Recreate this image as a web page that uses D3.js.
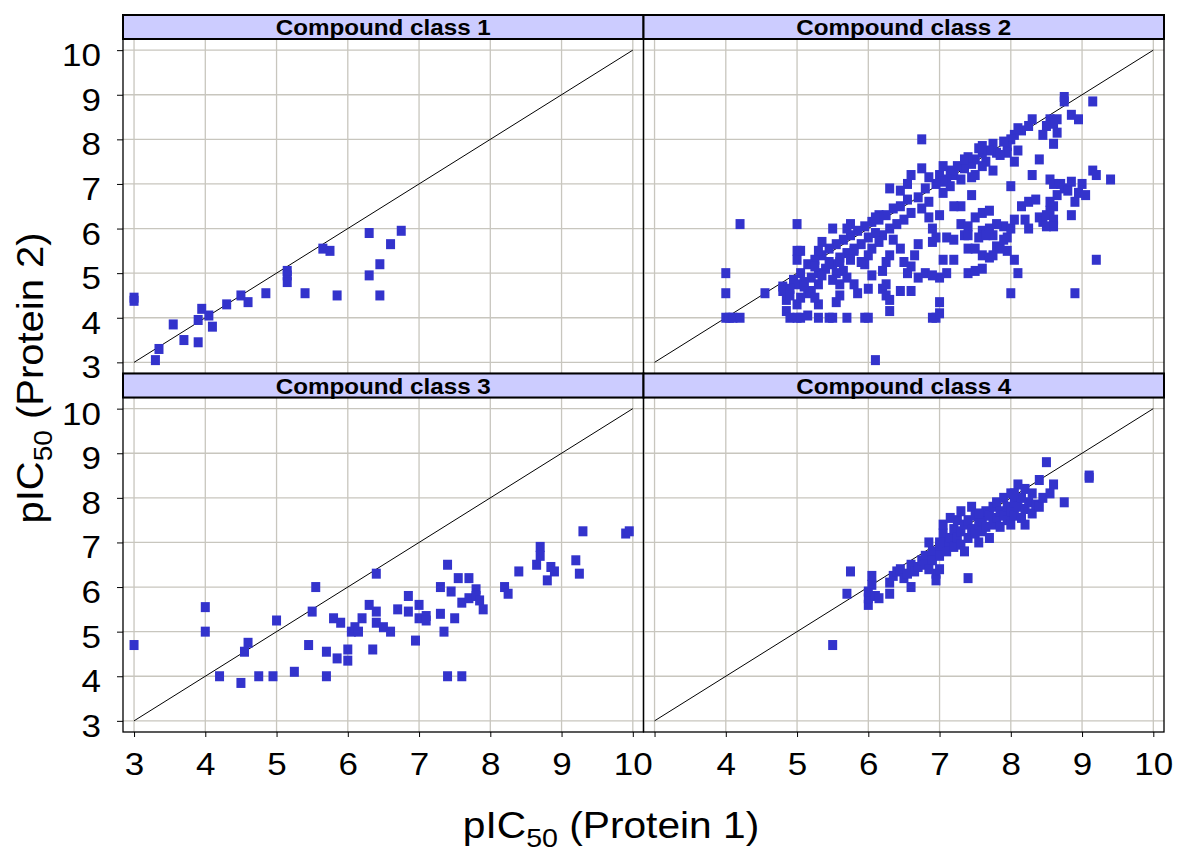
<!DOCTYPE html>
<html>
<head>
<meta charset="utf-8">
<script src="https://cdn.jsdelivr.net/npm/d3@7"></script>
<style>
  body { margin: 0; background: #fff; }
  svg { display: block; font-family: "Liberation Sans", Arial, sans-serif; }
</style>
</head>
<body>
<div id="chart"></div>
<script>
// Configuration
const width = 1179;
const height = 854;
const plotLeft = 123, plotRight = 1164, plotTopY = 15;
const stripH = 24, panelH = 334.5;
const colW = (plotRight - plotLeft) / 2;
const stretch = 1.13; // tick text is a bit wider than Arial

// --- Data ---
const panelTitles = ["Compound class 1", "Compound class 2", "Compound class 3", "Compound class 4"];
const xTicks = [3, 4, 5, 6, 7, 8, 9, 10];
const yTicks = [3, 4, 5, 6, 7, 8, 9, 10];
const refLine = [[3, 3], [10, 10]];

const class1Points = [
  [3.0, 4.45], [3.0, 4.38], [3.3, 3.05], [3.35, 3.3], [3.55, 3.85], [3.7, 3.5], [3.9, 3.45],
  [3.9, 3.95], [3.95, 4.2], [4.05, 4.05], [4.1, 3.8], [4.3, 4.3], [4.5, 4.5], [4.6, 4.35],
  [4.85, 4.55], [5.15, 4.95], [5.15, 5.05], [5.15, 4.8], [5.4, 4.55], [5.65, 5.55],
  [5.75, 5.5], [5.85, 4.5], [6.3, 4.95], [6.3, 5.9], [6.45, 4.5], [6.45, 5.2], [6.6, 5.65],
  [6.75, 5.95]
];

const class2Points = [
  // far left and floor values
  [4.0, 5.0], [4.0, 4.55], [4.0, 4.0], [4.05, 4.0], [4.1, 4.0], [4.2, 4.0], [4.2, 6.1],
  [4.55, 4.55], [4.8, 4.7], [4.8, 4.6], [4.85, 4.4], [4.85, 4.15], [4.9, 4.0], [4.9, 4.5],
  [5.0, 4.0], [5.0, 4.3], [5.0, 6.1], [5.0, 5.5], [5.0, 5.3], [5.05, 5.0], [4.95, 4.85],
  [5.05, 4.0], [5.3, 4.0], [5.45, 4.0], [5.5, 4.0], [5.7, 4.0], [5.95, 4.0], [6.0, 4.0],
  [6.9, 4.0], [6.95, 4.0], [6.1, 3.05],
  // upper part of the main band
  [8.75, 8.95], [8.75, 8.85], [9.15, 8.85], [8.85, 8.55], [8.95, 8.45], [8.55, 8.45],
  [8.65, 8.45], [8.6, 8.35], [8.5, 8.3], [8.45, 8.1], [8.65, 8.15], [8.6, 7.9], [8.25, 8.3],
  [8.15, 8.2], [8.05, 8.1], [8.1, 8.25], [8.3, 8.45], [8.0, 8.0], [7.95, 7.85], [7.9, 7.95],
  [7.8, 7.7], [7.75, 7.9], [7.7, 7.75], [7.6, 7.7], [7.5, 7.55], [7.55, 7.8],
  [7.45, 7.45], [7.4, 7.6], [7.35, 7.35], [7.25, 7.4], [7.2, 7.2], [7.15, 7.3], [7.0, 7.2],
  [7.95, 7.7], [8.1, 7.75], [8.4, 7.55], [8.05, 7.5], [7.75, 7.3], [7.65, 7.5], [7.6, 7.4],
  [7.85, 7.65], [7.5, 7.2], [7.3, 7.1], [7.45, 7.15], [7.15, 6.95], [7.05, 6.8],
  // lower part of the main band
  [7.1, 7.1], [7.05, 7.05], [6.95, 7.0], [6.85, 6.6], [6.8, 6.9], [6.75, 6.45], [6.7, 6.7],
  [6.6, 6.35], [6.55, 6.65], [6.5, 6.2], [6.45, 6.5], [6.4, 6.1], [6.35, 6.45], [6.3, 6.0],
  [6.25, 6.3], [6.2, 5.85], [6.15, 6.2], [6.1, 5.9], [6.05, 6.15], [6.0, 5.8], [5.95, 6.05],
  [5.9, 5.65], [5.85, 5.95], [5.8, 5.55], [5.75, 5.85], [5.7, 5.45], [5.65, 5.75],
  [5.6, 5.35], [5.55, 5.65], [5.5, 5.2], [5.45, 5.55], [5.4, 5.1], [5.35, 5.4],
  [5.3, 5.0], [5.25, 5.3], [5.2, 4.9], [5.15, 5.2], [5.1, 4.8], [5.0, 4.75], [4.9, 4.65],
  [6.75, 8.0], [7.35, 7.55], [7.6, 7.85], [7.05, 7.4], [6.75, 7.35], [6.85, 7.15], [6.6, 7.2],
  [6.55, 7.0], [6.3, 6.9], [6.45, 6.85], [6.15, 6.3], [6.1, 6.25], [5.75, 6.1], [5.7, 6.0],
  [5.5, 6.0], [5.35, 5.7], [5.3, 5.5], [5.05, 5.5],
  // points below the diagonal
  [6.85, 6.25], [7.0, 6.3], [6.9, 6.0], [6.95, 5.8], [7.1, 5.8], [7.2, 5.75], [7.3, 6.1],
  [7.4, 6.05], [7.35, 5.85], [7.5, 6.25], [7.6, 5.95], [7.55, 5.8], [7.6, 6.35], [7.4, 5.55],
  [7.5, 5.55], [7.6, 5.4], [7.2, 5.3], [7.05, 5.3], [7.0, 4.9], [7.1, 5.0], [6.9, 5.7],
  [6.7, 5.65], [6.65, 5.4], [6.6, 5.15], [6.55, 5.0], [6.5, 5.25], [6.45, 5.55], [6.35, 5.75],
  [6.3, 5.4], [6.2, 5.05], [6.25, 5.25], [6.15, 5.7], [6.05, 5.55], [6.0, 5.4], [5.95, 5.2],
  [5.9, 5.25], [5.8, 5.5], [5.75, 5.3], [5.65, 5.05], [5.6, 5.25], [5.55, 5.0], [5.5, 4.85],
  [5.45, 5.25], [5.35, 4.95], [5.3, 4.75], [5.25, 5.15], [5.2, 4.6], [5.15, 4.55], [5.1, 4.7],
  [5.05, 4.45], [5.8, 4.75], [5.85, 4.55], [5.7, 4.9], [5.6, 4.75], [6.0, 4.65],
  [6.05, 4.95], [6.2, 4.65], [6.25, 4.5], [6.3, 4.4], [6.6, 4.6], [6.7, 4.9], [6.8, 5.0],
  [6.9, 4.95], [7.0, 4.35], [7.0, 4.1], [6.45, 4.6], [6.3, 4.15], [6.25, 4.75], [5.6, 4.5],
  [5.55, 4.35], [5.3, 4.3], [5.25, 4.45], [5.15, 4.05],
  // lower band on the right
  [7.4, 5.0], [7.5, 5.05], [7.6, 5.1], [7.7, 5.35], [7.75, 5.4], [7.8, 5.6], [7.85, 5.55],
  [7.9, 5.75], [7.95, 5.8], [7.9, 6.05], [8.0, 6.0], [8.05, 6.2], [8.0, 6.95], [8.05, 5.3],
  [8.1, 5.0], [8.0, 4.55], [7.95, 5.5], [7.75, 5.85], [7.7, 6.0], [7.8, 6.1], [7.7, 6.4],
  [7.65, 5.85], [7.4, 5.85], [8.15, 6.5], [8.2, 6.2], [8.25, 6.6], [8.35, 6.65], [8.4, 6.25],
  [8.45, 6.15], [8.5, 6.05], [8.55, 6.4], [8.6, 6.5], [8.55, 6.6], [8.5, 6.3], [8.6, 6.2],
  [8.6, 6.05], [8.65, 6.75], [8.7, 7.0], [8.75, 6.9], [8.8, 6.85], [8.85, 7.05], [8.9, 6.6],
  [8.85, 6.3], [8.95, 6.8], [8.6, 7.0], [8.55, 7.1], [8.3, 7.2], [8.25, 6.0], [8.9, 4.55],
  [9.15, 7.3], [9.2, 7.2], [9.4, 7.1], [9.2, 5.3], [9.05, 6.75], [9.0, 7.0],
  [7.3, 6.5], [7.45, 6.75], [7.2, 6.5]
];

const class3Points = [
  [3.0, 4.7], [4.0, 5.55], [4.0, 5.0], [4.2, 4.0], [4.5, 3.85], [4.55, 4.55], [4.6, 4.75],
  [4.75, 4.0], [4.95, 4.0], [5.0, 5.25], [5.25, 4.1], [5.45, 4.7], [5.5, 5.45], [5.55, 6.0],
  [5.7, 4.55], [5.7, 4.0], [5.8, 5.3], [5.85, 4.4], [5.9, 5.2], [6.0, 4.35], [6.0, 4.6],
  [6.05, 5.0], [6.1, 5.1], [6.15, 5.0], [6.2, 5.3], [6.35, 4.6], [6.3, 5.6], [6.4, 5.2],
  [6.4, 6.3], [6.4, 5.45], [6.5, 5.1], [6.6, 5.0], [6.7, 5.5], [6.85, 5.8], [6.85, 5.45],
  [6.95, 4.8], [7.0, 5.3], [7.0, 5.6], [7.1, 5.35], [7.1, 5.25], [7.3, 6.0], [7.3, 5.4],
  [7.35, 5.0], [7.4, 4.0], [7.4, 6.5], [7.45, 5.9], [7.5, 5.3], [7.55, 6.2], [7.6, 4.0],
  [7.6, 5.65], [7.7, 5.75], [7.7, 6.2], [7.8, 5.95], [7.8, 5.8], [7.85, 5.7], [7.9, 5.5],
  [8.2, 6.0], [8.25, 5.85], [8.4, 6.35], [8.7, 6.9], [8.7, 6.7], [8.65, 6.5], [8.8, 6.15],
  [8.85, 6.45], [8.9, 6.35], [9.2, 6.6], [9.25, 6.3], [9.3, 7.25], [9.9, 7.2], [9.95, 7.25]
];

const class4Points = [
  [5.5, 4.7], [5.7, 5.85], [5.75, 6.35], [6.0, 5.6], [6.0, 5.75], [6.0, 5.9], [6.05, 6.05],
  [6.05, 6.25], [6.1, 5.8], [6.15, 5.75], [6.3, 5.85], [6.3, 6.1], [6.35, 6.25], [6.4, 6.35],
  [6.45, 6.4], [6.5, 6.2], [6.55, 6.3], [6.6, 6.5], [6.65, 6.35], [6.7, 6.45], [6.75, 6.6],
  [6.8, 6.7], [6.8, 6.5], [6.85, 7.0], [6.9, 6.8], [6.9, 6.6], [6.95, 6.3], [7.0, 6.9],
  [7.0, 6.7], [7.05, 7.2], [7.05, 7.4], [7.1, 7.0], [7.1, 6.8], [7.15, 7.1], [7.2, 7.3],
  [7.2, 6.9], [7.25, 7.5], [7.25, 7.1], [7.3, 7.25], [7.3, 6.95], [7.35, 7.4], [7.35, 6.8],
  [7.4, 7.5], [7.4, 7.1], [7.4, 6.2], [7.45, 7.8], [7.45, 7.3], [7.5, 7.6], [7.5, 7.2],
  [7.55, 7.4], [7.55, 7.0], [7.6, 7.5], [7.6, 7.25], [7.65, 7.7], [7.65, 7.35], [7.7, 7.6],
  [7.7, 7.1], [7.75, 7.8], [7.75, 7.4], [7.8, 7.9], [7.8, 7.55], [7.85, 7.7], [7.85, 7.35],
  [7.9, 8.0], [7.9, 7.6], [7.95, 7.8], [7.95, 7.5], [8.0, 8.1], [8.0, 7.7], [8.0, 7.4],
  [8.05, 7.9], [8.05, 7.6], [8.1, 8.3], [8.1, 7.8], [8.15, 8.0], [8.15, 7.55], [8.2, 7.75],
  [8.2, 8.2], [8.25, 7.9], [8.3, 7.65], [8.3, 8.1], [8.35, 7.85], [8.4, 8.4], [8.4, 7.8],
  [8.45, 8.0], [8.5, 8.8], [8.55, 8.1], [8.6, 8.3], [8.75, 7.9], [9.1, 8.5], [9.1, 8.45],
  [7.0, 6.4], [6.85, 6.4], [6.6, 6.0], [6.95, 6.15], [7.3, 7.7], [7.55, 7.65], [7.15, 7.55],
  [7.0, 7.0], [8.2, 7.4], [8.05, 8.1]
];

const panelData = [class1Points, class2Points, class3Points, class4Points];

// --- Chart ---
const svg = d3.select("#chart")
    .append("svg")
    .attr("width", width)
    .attr("height", height);

panelData.forEach((points, i) => {
    const col = i % 2;
    const row = Math.floor(i / 2);
    const x0 = plotLeft + col * colW;
    const stripTop = plotTopY + row * (stripH + panelH);
    const panelTop = stripTop + stripH;
    const panelBottom = panelTop + panelH;

    const x = d3.scaleLinear().domain([2.845, 10.15]).range([x0, x0 + colW]);
    const y = d3.scaleLinear().domain([2.75, 10.25]).range([panelBottom, panelTop]);

    const g = svg.append("g").attr("class", "panel");

    // grid
    g.append("g").selectAll("line")
        .data(xTicks)
        .join("line")
        .attr("x1", d => x(d)).attr("x2", d => x(d))
        .attr("y1", panelTop).attr("y2", panelBottom)
        .attr("stroke", "#c8c6be").attr("stroke-width", 1.3);
    g.append("g").selectAll("line")
        .data(yTicks)
        .join("line")
        .attr("x1", x0).attr("x2", x0 + colW)
        .attr("y1", d => y(d)).attr("y2", d => y(d))
        .attr("stroke", "#c8c6be").attr("stroke-width", 1.3);

    // reference line y = x
    g.append("path")
        .datum(refLine)
        .attr("d", d3.line().x(d => x(d[0])).y(d => y(d[1])))
        .attr("fill", "none")
        .attr("stroke", "#000")
        .attr("stroke-width", 1);

    // points
    g.append("g").selectAll("rect")
        .data(points)
        .join("rect")
        .attr("x", d => x(d[0]) - 4.5)
        .attr("y", d => y(d[1]) - 5)
        .attr("width", 9)
        .attr("height", 10)
        .attr("fill", "#3333cc");

    // panel border
    g.append("rect")
        .attr("x", x0).attr("y", panelTop)
        .attr("width", colW).attr("height", panelH)
        .attr("fill", "none").attr("stroke", "#000").attr("stroke-width", 1.3);

    // strip
    g.append("rect")
        .attr("x", x0).attr("y", stripTop)
        .attr("width", colW).attr("height", stripH)
        .attr("fill", "#ccccff").attr("stroke", "#000").attr("stroke-width", 2);
    g.append("text")
        .attr("transform", `translate(${x0 + colW / 2},${stripTop + 20}) scale(1.1,1)`)
        .attr("text-anchor", "middle")
        .attr("font-weight", "bold")
        .attr("font-size", 22)
        .text(panelTitles[i]);

    // y axis on left column
    if (col === 0) {
        const ya = g.append("g")
            .attr("transform", `translate(${x0},0)`)
            .call(d3.axisLeft(y).tickValues(yTicks).tickSize(6).tickPadding(0));
        ya.select(".domain").remove();
        ya.selectAll(".tick line").attr("stroke", "#000");
        ya.selectAll(".tick text")
            .attr("font-family", "Liberation Sans, Arial, sans-serif")
            .attr("font-size", 31)
            .attr("fill", "#000")
            .attr("x", -22 / stretch)
            .attr("dy", 15.5)
            .attr("transform", `scale(${stretch},1)`);
    }

    // x axis on bottom row
    if (row === 1) {
        const xa = g.append("g")
            .attr("transform", `translate(0,${panelBottom})`)
            .call(d3.axisBottom(x).tickValues(xTicks).tickSize(5)
                .tickFormat(d => (col === 1 && d === 3) ? "" : d));
        xa.select(".domain").remove();
        xa.selectAll(".tick line").attr("stroke", "#000");
        xa.selectAll(".tick text")
            .attr("font-family", "Liberation Sans, Arial, sans-serif")
            .attr("font-size", 31)
            .attr("fill", "#000")
            .attr("y", 0)
            .attr("dy", 43.3)
            .attr("transform", `scale(${stretch},1)`);
    }
});

// axis titles
const xTitle = svg.append("text")
    .attr("transform", `translate(611,838) scale(1.1,1)`)
    .attr("text-anchor", "middle")
    .attr("font-size", 37);
xTitle.append("tspan").text("pIC");
xTitle.append("tspan").attr("font-size", 26).attr("dy", 9).text("50");
xTitle.append("tspan").attr("dy", -9).text(" (Protein 1)");

const yTitle = svg.append("text")
    .attr("transform", `translate(43,378) rotate(-90) scale(1.08,1)`)
    .attr("text-anchor", "middle")
    .attr("font-size", 37);
yTitle.append("tspan").text("pIC");
yTitle.append("tspan").attr("font-size", 26).attr("dy", 9).text("50");
yTitle.append("tspan").attr("dy", -9).text(" (Protein 2)");
</script>
</body>
</html>
